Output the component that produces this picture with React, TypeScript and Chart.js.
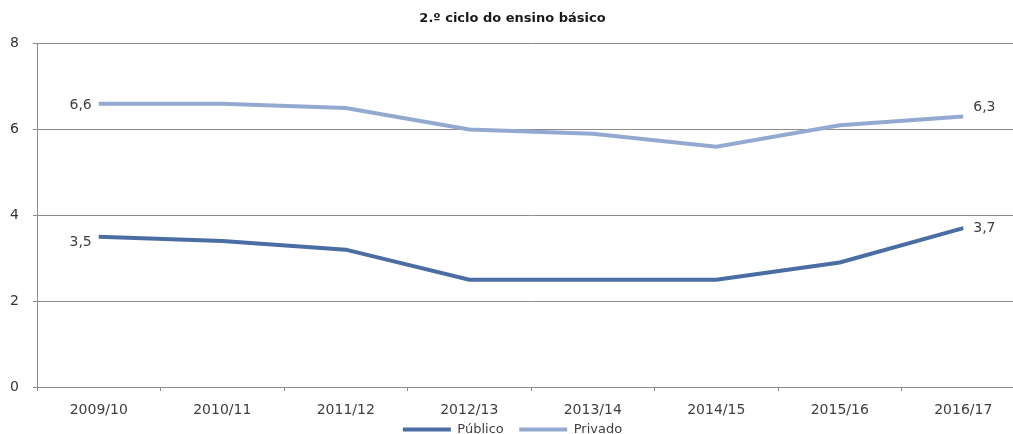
import React, { useEffect, useRef } from "react";
import { Chart, registerables } from "chart.js";

Chart.register(...registerables);

const TITLE = "2.º ciclo do ensino básico";
const categories = ["2009/10", "2010/11", "2011/12", "2012/13", "2013/14", "2014/15", "2015/16", "2016/17"];
const publicoValues = [3.5, 3.4, 3.2, 2.5, 2.5, 2.5, 2.9, 3.7];
const privadoValues = [6.6, 6.6, 6.5, 6.0, 5.9, 5.6, 6.1, 6.3];
const yTicks = [0, 2, 4, 6, 8];

const FONT = "'DejaVu Sans', sans-serif";
const TEXT = "#404040";
const GRID = "#8c8c8c";

const endLabels = {
  id: "endLabels",
  afterDatasetsDraw(chart: any) {
    const ctx = chart.ctx;
    ctx.save();
    ctx.font = `14px ${FONT}`;
    ctx.fillStyle = TEXT;
    ctx.textBaseline = "middle";
    const cfg = [
      { ds: 0, dy0: 6, dy1: 0 },
      { ds: 1, dy0: 2, dy1: -9 },
    ];
    cfg.forEach(({ ds, dy0, dy1 }) => {
      const meta = chart.getDatasetMeta(ds);
      const data = chart.data.datasets[ds].data as number[];
      const n = data.length;
      const first = meta.data[0];
      const last = meta.data[n - 1];
      const fmt = (v: number) => v.toFixed(1).replace(".", ",");
      ctx.textAlign = "right";
      ctx.fillText(fmt(data[0]), first.x - 7, first.y + dy0);
      ctx.textAlign = "left";
      ctx.fillText(fmt(data[n - 1]), last.x + 10, last.y + dy1);
    });
    ctx.restore();
  },
};

export default function App() {
  const ref = useRef<HTMLCanvasElement | null>(null);
  useEffect(() => {
    if (!ref.current) return;
    const chart = new Chart(ref.current, {
      type: "line",
      data: {
        labels: categories,
        datasets: [
          {
            label: "Público",
            data: publicoValues,
            borderColor: "#4a6da3",
            backgroundColor: "#4a6da3",
            borderWidth: 4,
            pointRadius: 0,
            tension: 0,
          },
          {
            label: "Privado",
            data: privadoValues,
            borderColor: "#93aad0",
            backgroundColor: "#93aad0",
            borderWidth: 4,
            pointRadius: 0,
            tension: 0,
          },
        ],
      },
      options: {
        animation: false,
        responsive: true,
        maintainAspectRatio: false,
        layout: { padding: { left: 0, right: 1, top: 5, bottom: 0 } },
        plugins: {
          title: {
            display: true,
            text: TITLE,
            color: "#1a1a1a",
            font: { family: FONT, size: 13, weight: "bold" },
            padding: { top: 6, bottom: 17 },
          },
          legend: {
            position: "bottom",
            labels: {
              color: TEXT,
              font: { family: FONT, size: 13 },
              boxWidth: 48,
              boxHeight: 4,
              padding: 3,
              generateLabels: (chart: any) =>
                Chart.defaults.plugins.legend.labels
                  .generateLabels(chart)
                  .map((l: any, i: number) => ({
                    ...l,
                    text: i === 0 ? l.text + "   " : l.text,
                    lineWidth: 0,
                    fillStyle: l.strokeStyle,
                  })),
            },
          },
          tooltip: { enabled: false },
        },
        scales: {
          x: {
            type: "category",
            offset: true,
            afterFit: (s: any) => {
              s.height = 33;
            },
            grid: {
              offset: true,
              drawOnChartArea: false,
              drawTicks: true,
              tickLength: 4,
              color: GRID,
            },
            border: { color: GRID, width: 1 },
            ticks: { color: TEXT, font: { family: FONT, size: 14 }, padding: 11 },
          },
          y: {
            min: 0,
            max: 8,
            afterFit: (s: any) => {
              s.width = 37;
            },
            afterBuildTicks: (s: any) => {
              s.ticks = yTicks.map((v) => ({ value: v }));
            },
            grid: { color: GRID, tickLength: 4 },
            border: { color: GRID, width: 1 },
            ticks: { color: "#333333", font: { family: FONT, size: 14 }, padding: 14 },
          },
        },
      },
      plugins: [endLabels],
    });
    return () => chart.destroy();
  }, []);
  return (
    <div style={{ position: "fixed", left: 0, top: 0, width: 1013, height: 434, overflow: "hidden", background: "#fff" }}>
      <div style={{ position: "relative", width: 1026, height: 446 }}>
        <canvas ref={ref} />
      </div>
    </div>
  );
}
